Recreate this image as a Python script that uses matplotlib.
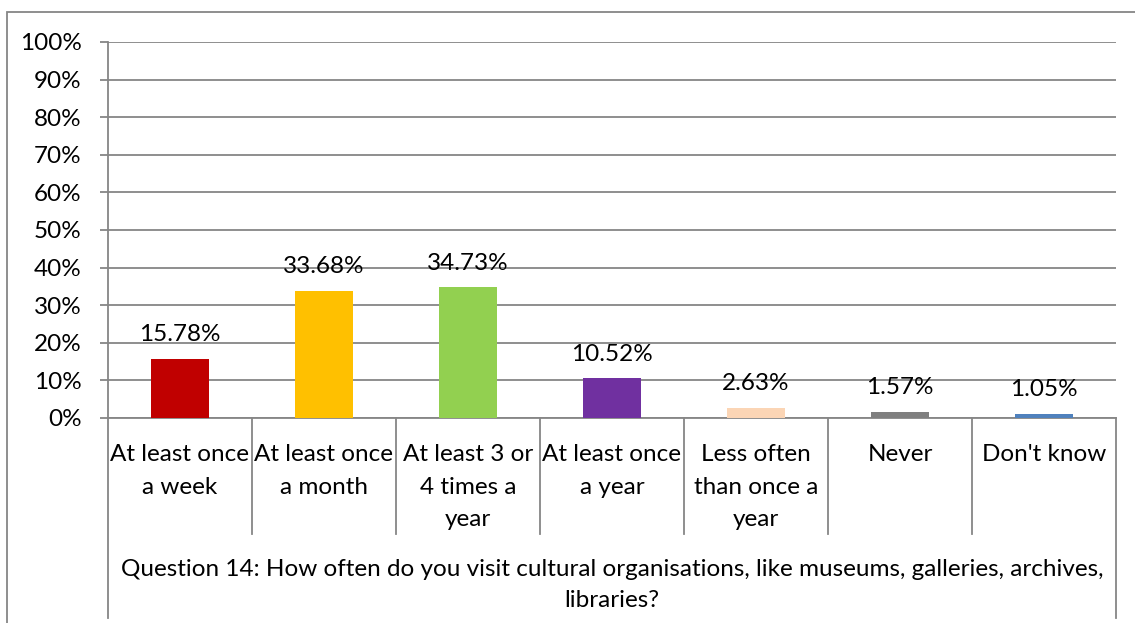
import matplotlib.pyplot as plt
from matplotlib.patches import Rectangle

categories = ["At least once\na week", "At least once\na month", "At least 3 or\n4 times a\nyear",
              "At least once\na year", "Less often\nthan once a\nyear", "Never", "Don't know"]
values = [15.78, 33.68, 34.73, 10.52, 2.63, 1.57, 1.05]
colors = ["#C00000", "#FFC000", "#92D050", "#7030A0", "#FBD5B5", "#7F7F7F", "#4F81BD"]
yticks = list(range(0, 101, 10))
axis_title = "Question 14: How often do you visit cultural organisations, like museums, galleries, archives,\nlibraries?"

W, H = 1135, 623
plt.rcParams['font.family'] = ['Lato', 'DejaVu Sans']
grid_col = "#868686"
fs = 17.5

fig = plt.figure(figsize=(W / 100, H / 100), dpi=100)
ax = fig.add_axes([108 / W, (H - 418) / H, (1116 - 108) / W, (418 - 42) / H])

x = range(len(values))
ax.bar(x, values, width=0.4, color=colors, zorder=3)
for i, v in enumerate(values):
    ax.annotate(f"{v:.2f}%", (i, v), xytext=(0, 10), textcoords="offset points",
                ha="center", va="bottom", fontsize=fs, color="#000000")

ax.set_xlim(-0.5, len(values) - 0.5)
ax.set_ylim(0, 100)
ax.set_yticks(yticks)
ax.set_yticklabels([f"{t}%" for t in yticks], fontsize=fs)
ax.yaxis.grid(True, color=grid_col, linewidth=1.3, zorder=0)
ax.tick_params(axis="y", length=6, width=1.3, color=grid_col, pad=13)
ax.set_xticks([])
for s in ["top", "right"]:
    ax.spines[s].set_visible(False)
for s in ["left", "bottom"]:
    ax.spines[s].set_color(grid_col)
    ax.spines[s].set_linewidth(1.3)

# category table below the axis
tr = ax.get_xaxis_transform()
h_px = 418 - 42
y_inner = -(534 - 418) / h_px
y_outer = -(618 - 418) / h_px
for k in range(len(values) + 1):
    xb = k - 0.5
    y_end = y_outer if k in (0, len(values)) else y_inner
    ax.plot([xb, xb], [0, y_end], transform=tr, color=grid_col, linewidth=1.3, clip_on=False)
for i, c in enumerate(categories):
    ax.text(i, -(444 - 418) / h_px, c, transform=tr, ha="center", va="top",
            fontsize=fs, linespacing=1.68)
ax.text((len(values) - 1) / 2, -(559 - 418) / h_px, axis_title, transform=tr,
        ha="center", va="top", fontsize=fs, linespacing=1.6)

# chart frame
fig.patches.append(Rectangle((7 / W, -0.1), 1.2, 1.1 - 12 / H, transform=fig.transFigure,
                             fill=False, edgecolor=grid_col, linewidth=1.3))

fig.savefig("out.png", dpi=100)
